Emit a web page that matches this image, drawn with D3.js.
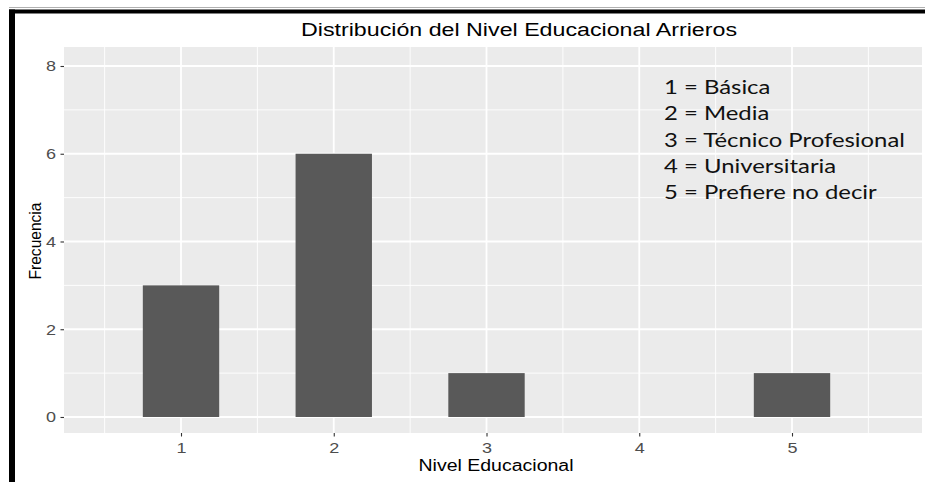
<!DOCTYPE html>
<html><head><meta charset="utf-8">
<script src="https://cdn.jsdelivr.net/npm/d3@7"></script>
<style>html,body{margin:0;padding:0;background:#fff;overflow:hidden;}svg{display:block;}</style>
</head><body>
<svg id="chart" width="925" height="482"></svg>
<script>
const categories = [1, 2, 3, 4, 5];
const frequencies = [3, 6, 1, 0, 1];
const yTicks = [0, 2, 4, 6, 8];
const yMinor = [1, 3, 5, 7];
const xMinor = [0.5, 1.5, 2.5, 3.5, 4.5, 5.5];
const legendLines = ["1 = Básica", "2 = Media", "3 = Técnico Profesional", "4 = Universitaria", "5 = Prefiere no decir"];
const titleText = "Distribución del Nivel Educacional Arrieros";
const xLabel = "Nivel Educacional";
const yLabel = "Frecuencia";

const svg = d3.select("#chart");
const panel = {left: 64, right: 922, top: 47, bottom: 433};
const stretch = 1.2; // horizontal stretch of ggplot texts

const x = d3.scaleLinear().domain([0.234, 5.851]).range([panel.left, panel.right]);
const y = d3.scaleLinear().domain([-0.365, 8.433]).range([panel.bottom, panel.top]);

// frame decoration
svg.append("line").attr("x1", 9).attr("x2", 925).attr("y1", 7.5).attr("y2", 7.5).attr("stroke", "#b0b0b0").attr("stroke-width", 1);
svg.append("rect").attr("x", 9).attr("y", 9.5).attr("width", 916).attr("height", 4).attr("fill", "#000");
svg.append("rect").attr("x", 9).attr("y", 9.5).attr("width", 6).attr("height", 473).attr("fill", "#000");

// panel
svg.append("rect").attr("x", panel.left).attr("y", panel.top)
  .attr("width", panel.right - panel.left).attr("height", panel.bottom - panel.top).attr("fill", "#ebebeb");

const grid = svg.append("g");
grid.selectAll(".ymin").data(yMinor).enter().append("line")
  .attr("x1", panel.left).attr("x2", panel.right).attr("y1", d => y(d)).attr("y2", d => y(d))
  .attr("stroke", "#fff").attr("stroke-width", 0.9);
grid.selectAll(".xmin").data(xMinor).enter().append("line")
  .attr("y1", panel.top).attr("y2", panel.bottom).attr("x1", d => x(d)).attr("x2", d => x(d))
  .attr("stroke", "#fff").attr("stroke-width", 0.9);
grid.selectAll(".ymaj").data(yTicks).enter().append("line")
  .attr("x1", panel.left).attr("x2", panel.right).attr("y1", d => y(d)).attr("y2", d => y(d))
  .attr("stroke", "#fff").attr("stroke-width", 1.8);
grid.selectAll(".xmaj").data(categories).enter().append("line")
  .attr("y1", panel.top).attr("y2", panel.bottom).attr("x1", d => x(d)).attr("x2", d => x(d))
  .attr("stroke", "#fff").attr("stroke-width", 1.8);

// bars
svg.append("g").selectAll("rect").data(categories.map((c, i) => ({c, v: frequencies[i]})).filter(d => d.v > 0))
  .enter().append("rect")
  .attr("x", d => x(d.c - 0.25)).attr("width", d => x(d.c + 0.25) - x(d.c - 0.25))
  .attr("y", d => y(d.v)).attr("height", d => y(0) - y(d.v))
  .attr("fill", "#595959");

function stretchText(sel) {
  sel.each(function() {
    const w = this.getComputedTextLength();
    d3.select(this).attr("textLength", w * stretch).attr("lengthAdjust", "spacingAndGlyphs");
  });
}

// axes
const yAxis = d3.axisLeft(y).tickValues(yTicks).tickFormat(d3.format("d")).tickSize(3.5).tickPadding(4.5);
const gy = svg.append("g").attr("transform", `translate(${panel.left},0)`).call(yAxis);
gy.select(".domain").remove();
gy.selectAll(".tick line").attr("stroke", "#333").attr("stroke-width", 1.1);
gy.selectAll(".tick text").attr("fill", "#4d4d4d").attr("font-family", "Liberation Sans, Arial, sans-serif").attr("font-size", 15).call(stretchText);

const xAxis = d3.axisBottom(x).tickValues(categories).tickFormat(d3.format("d")).tickSize(3.5).tickPadding(5.5);
const gx = svg.append("g").attr("transform", `translate(0,${panel.bottom})`).call(xAxis);
gx.select(".domain").remove();
gx.selectAll(".tick line").attr("stroke", "#333").attr("stroke-width", 1.1);
gx.selectAll(".tick text").attr("fill", "#4d4d4d").attr("font-family", "Liberation Sans, Arial, sans-serif").attr("font-size", 15).call(stretchText);

// title & labels
svg.append("text").attr("x", 519).attr("y", 36).attr("text-anchor", "middle")
  .style("font-family", "Liberation Sans, Arial, sans-serif").style("font-size", "18px").attr("fill", "#000")
  .attr("textLength", 436).attr("lengthAdjust", "spacingAndGlyphs").text(titleText);
svg.append("text").attr("x", 496).attr("y", 471).attr("text-anchor", "middle")
  .style("font-family", "Liberation Sans, Arial, sans-serif").style("font-size", "16px").attr("fill", "#000")
  .attr("textLength", 155).attr("lengthAdjust", "spacingAndGlyphs")
  .text(xLabel);
svg.append("text").attr("transform", "translate(41,241) rotate(-90)").attr("text-anchor", "middle")
  .style("font-family", "Liberation Sans, Arial, sans-serif").style("font-size", "17px").attr("fill", "#000")
  .attr("textLength", 77).attr("lengthAdjust", "spacingAndGlyphs").text(yLabel);

// legend text box
const lg = svg.append("g").attr("transform", "translate(664,0)");
const lt = lg.selectAll("text").data(legendLines).enter().append("text")
  .attr("x", 0).attr("y", (d, i) => 94 + i * 26.3)
  .style("font-family", "Lato, 'Open Sans', sans-serif").style("font-size", "18.5px").attr("fill", "#111")
  .text(d => d);
const w3 = lt.nodes()[2].getComputedTextLength();
const s = 241 / w3;
lg.attr("transform", `translate(664,0) scale(${s},1)`);
</script>
</body></html>
